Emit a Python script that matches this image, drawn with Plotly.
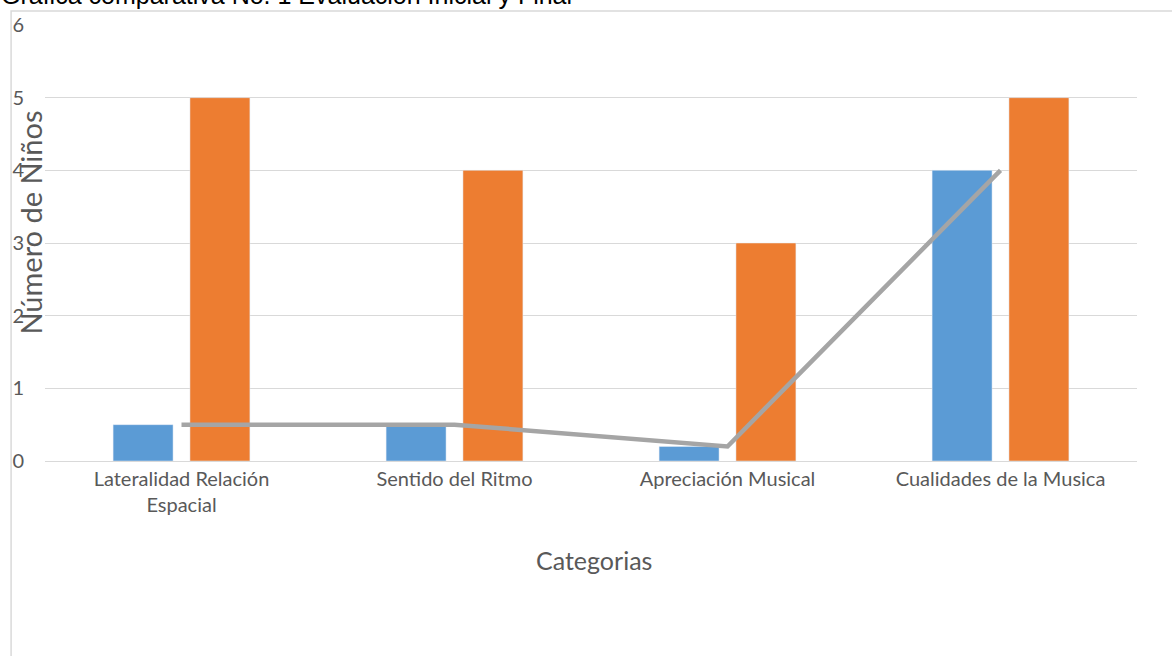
import plotly.graph_objects as go

categories = ["Lateralidad Relación<br>Espacial", "Sentido del Ritmo", "Apreciación Musical", "Cualidades de la Musica"]
inicial = [0.5, 0.5, 0.2, 4]
final = [5, 4, 3, 5]
linea = [0.5, 0.5, 0.2, 4]
y_ticks = [0, 1, 2, 3, 4, 5, 6]

W, H = 1172, 656
L, R, T, B = 42, 35, 24, 195
pw, ph = W - L - R, H - T - B

def px(x):
    return (x - L) / pw

def py(y):
    return (H - B - y) / ph

FONT = "Lato"
GREY = "#595959"

fig = go.Figure()
fig.add_bar(x=categories, y=inicial, marker=dict(color="#5b9bd5"), name="Inicial")
fig.add_bar(x=categories, y=final, marker=dict(color="#ed7d31"), name="Final")
fig.add_scatter(x=categories, y=linea, mode="lines",
                line=dict(color="#a5a5a5", width=4.5), name="Tendencia")

fig.update_layout(
    width=W, height=H,
    margin=dict(l=L, r=R, t=T, b=B),
    paper_bgcolor="white", plot_bgcolor="white",
    barmode="group", bargap=0.437, bargroupgap=0.22,
    showlegend=False,
    font=dict(family=FONT, color=GREY, size=20),
)
fig.update_yaxes(range=[0, 6], tickvals=y_ticks, showgrid=True, gridcolor="#d9d9d9",
                 gridwidth=1.3, zeroline=False, showline=False, ticks="",
                 tickfont=dict(size=20, color=GREY, family=FONT), ticklabelstandoff=20)
fig.update_xaxes(showgrid=False, zeroline=False, showline=True, linecolor="#d9d9d9",
                 linewidth=1.3, ticks="", tickfont=dict(size=20, color=GREY, family=FONT))

fig.add_shape(type="rect", xref="paper", yref="paper",
              x0=px(8), x1=px(1190), y0=py(700), y1=py(10),
              line=dict(color="#d9d9d9", width=1.5), fillcolor="rgba(0,0,0,0)", layer="below")

fig.add_annotation(text="Grafica comparativa No. 1 Evaluación Inicial y Final",
                   xref="paper", yref="paper", x=px(-4), y=py(10), xanchor="left", yanchor="bottom",
                   showarrow=False, font=dict(family="Liberation Sans", size=25, color="#000000"))
fig.add_annotation(text="Número de Niños", xref="paper", yref="paper", x=px(28), y=py(222),
                   xanchor="center", yanchor="middle", textangle=-90, showarrow=False,
                   font=dict(family=FONT, size=29, color=GREY))
fig.add_annotation(text="Categorias", xref="paper", yref="paper", x=px(593), y=py(560),
                   xanchor="center", yanchor="middle", showarrow=False,
                   font=dict(family=FONT, size=25, color=GREY))

fig.write_html("out.html", config={"displayModeBar": False},
               post_script="document.body.style.margin='0';")
